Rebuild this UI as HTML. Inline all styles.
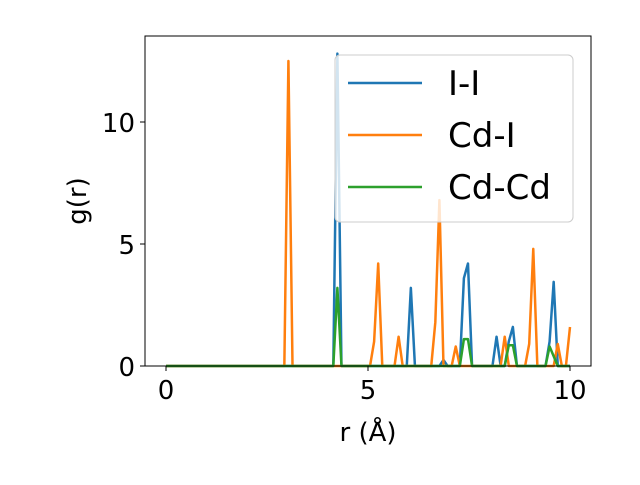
<!DOCTYPE html>
<html><head><meta charset="utf-8"><style>body{margin:0;background:#fff}svg{font-family:"DejaVu Sans","Liberation Sans",sans-serif}</style></head>
<body>
<svg id="c" width="640" height="480"></svg>
<script>
const N = 100;
const xTicks = [0, 5, 10];
const yTicks = [0, 5, 10];
const seriesNames = ["I-I", "Cd-I", "Cd-Cd"];
const seriesColors = ["#1f77b4", "#ff7f0e", "#2ca02c"];
const iiPeaks = {42:12.8, 60:3.2, 68:0.25, 73:3.6, 74:4.2, 81:1.2, 84:1.0, 85:1.6, 94:1.0, 95:3.45};
const cdiPeaks = {30:12.5, 51:1.0, 52:4.2, 57:1.2, 66:1.8, 67:6.8, 71:0.8, 83:1.2, 89:0.9, 90:4.8, 96:0.9, 99:1.6};
const cdcdPeaks = {42:3.2, 73:1.1, 74:1.1, 84:0.85, 85:0.85, 94:0.8, 95:0.4};
const peakSets = [iiPeaks, cdiPeaks, cdcdPeaks];

const L=145,R=591,T=36,B=366;
const xs = v => 166 + (v/10)*404;
const ys = v => 366 - v*24.4;
const svg = document.getElementById('c');
const NS="http://www.w3.org/2000/svg";
function mk(tag, attrs, parent){const e=document.createElementNS(NS,tag);for(const k in attrs)e.setAttribute(k,attrs[k]);(parent||svg).appendChild(e);return e;}

peakSets.forEach((p,si)=>{
  let pts=[];
  for(let i=0;i<N;i++){const x=i*10/(N-1);pts.push(xs(x).toFixed(2)+','+ys(p[i]||0).toFixed(2));}
  const pl=mk('polyline',{points:pts.join(' '),fill:'none',stroke:seriesColors[si],'stroke-width':2.5,'stroke-linejoin':'round'});
  
  
});

const frame=mk('rect',{x:L,y:T,width:R-L,height:B-T,fill:'none',stroke:'#000','stroke-width':1});



xTicks.forEach(t=>{
  mk('line',{x1:xs(t),x2:xs(t),y1:B,y2:B+5,stroke:'#000'});
  const tx=mk('text',{x:xs(t),y:B+33,'font-size':26,'text-anchor':'middle'});tx.textContent=t;
  
  
});
yTicks.forEach(t=>{
  mk('line',{x1:L-5,x2:L,y1:ys(t),y2:ys(t),stroke:'#000'});
  const tx=mk('text',{x:L-10,y:ys(t)+10,'font-size':26,'text-anchor':'end'});tx.textContent=t;
  
  
});
const xl=mk('text',{x:368,y:441,'font-size':26,'text-anchor':'middle'});xl.textContent='r (Å)';


const yl=mk('text',{x:86,y:201,'font-size':26,'text-anchor':'middle',transform:'rotate(-90 86 201)'});yl.textContent='g(r)';



const lg=mk('g',{});


mk('rect',{x:335,y:55,width:238,height:167,rx:5,fill:'#fff','fill-opacity':0.8,stroke:'#ccc'},lg);
seriesNames.forEach((n,i)=>{
  const y=83+i*52;
  mk('line',{x1:348,x2:422,y1:y,y2:y,stroke:seriesColors[i],'stroke-width':2.5},lg);
  const t=mk('text',{x:448,y:y+12,'font-size':34},lg);t.textContent=n;
  
  
});
</script>
</body></html>
